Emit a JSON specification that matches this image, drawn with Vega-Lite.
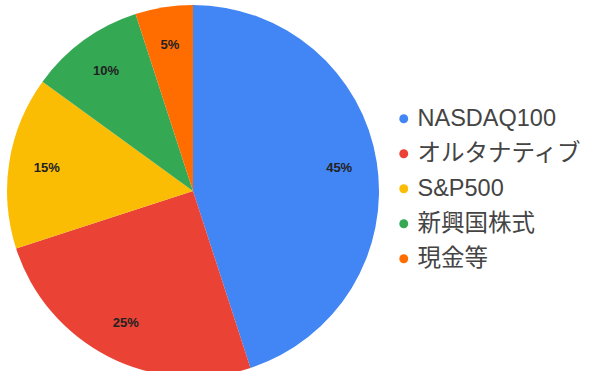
{
  "$schema": "https://vega.github.io/schema/vega-lite/v6.json",
  "width": 386,
  "height": 382,
  "padding": 0,
  "background": "white",
  "config": {"view": {"stroke": null}, "font": "Liberation Sans, Noto Sans CJK JP, sans-serif"},
  "data": {
    "values": [
      {"name": "NASDAQ100", "value": 45, "label": "45%", "idx": 1},
      {"name": "オルタナティブ", "value": 25, "label": "25%", "idx": 2},
      {"name": "S&P500", "value": 15, "label": "15%", "idx": 3},
      {"name": "新興国株式", "value": 10, "label": "10%", "idx": 4},
      {"name": "現金等", "value": 5, "label": "5%", "idx": 5}
    ]
  },
  "encoding": {
    "theta": {"field": "value", "type": "quantitative", "stack": true},
    "order": {"field": "idx", "type": "quantitative"},
    "color": {
      "field": "name",
      "type": "nominal",
      "sort": ["NASDAQ100", "オルタナティブ", "S&P500", "新興国株式", "現金等"],
      "scale": {
        "domain": ["NASDAQ100", "オルタナティブ", "S&P500", "新興国株式", "現金等"],
        "range": ["#4285F4", "#EA4335", "#FBBC04", "#34A853", "#FF6D01"]
      },
      "legend": {
        "title": null,
        "orient": "none",
        "legendX": 392,
        "legendY": 107,
        "padding": 0,
        "symbolType": "circle",
        "symbolSize": 80,
        "symbolStrokeWidth": 0,
        "labelFontSize": 23.5,
        "labelColor": "#444444",
        "labelOffset": 2,
        "rowPadding": 10,
        "labelLimit": 300
      }
    }
  },
  "layer": [
    {"mark": {"type": "arc", "outerRadius": 186}},
    {
      "mark": {"type": "text", "radius": 148, "fontSize": 13, "fontWeight": "bold"},
      "encoding": {
        "text": {"field": "label", "type": "nominal"},
        "color": {"value": "#222222"}
      }
    }
  ]
}
